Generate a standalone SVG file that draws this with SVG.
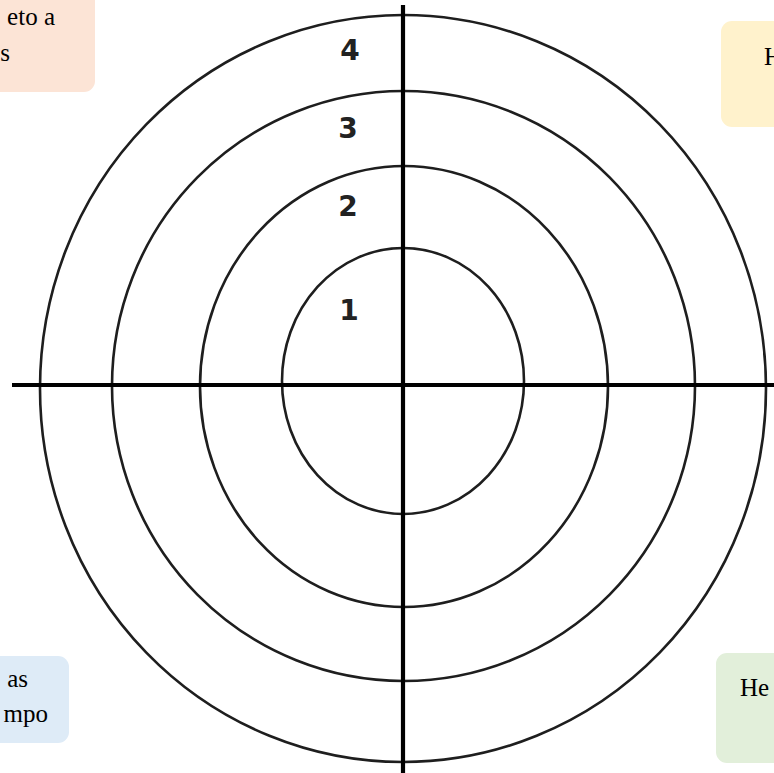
<svg xmlns="http://www.w3.org/2000/svg" width="774" height="773" viewBox="0 0 774 773">
<style>
.ring{fill:none;stroke:#1e1e1e;stroke-width:2.6}
.axis{stroke:#000;stroke-width:4.2}
.num{font-family:"DejaVu Sans",sans-serif;font-weight:bold;font-size:28px;fill:#222;text-anchor:middle}
.note{font-family:"Liberation Serif",serif;font-size:25px;fill:#000}
</style>
<rect width="774" height="773" fill="#fff"/>
<g id="note-tl"><rect x="-20" y="-20" width="115" height="112" rx="11" fill="#fce4d6"/>
<text class="note" x="55" y="25" text-anchor="end">eto a</text>
<text class="note" x="10" y="61" text-anchor="end">s</text></g>
<g id="note-tr"><rect x="721" y="21" width="80" height="106" rx="11" fill="#fff2cc"/>
<text class="note" x="764" y="65">H</text></g>
<g id="note-bl"><rect x="-20" y="656" width="89" height="87" rx="11" fill="#deebf7"/>
<text class="note" x="28" y="687" text-anchor="end">as</text>
<text class="note" x="48" y="722" text-anchor="end">mpo</text></g>
<g id="note-br"><rect x="716" y="653" width="80" height="110" rx="11" fill="#e2efda"/>
<text class="note" x="740" y="696">He</text></g>
<g id="rings">
<ellipse id="ring1" class="ring" cx="403" cy="381" rx="121" ry="133"/>
<ellipse id="ring2" class="ring" cx="404" cy="386.5" rx="204" ry="220.5"/>
<ellipse id="ring3" class="ring" cx="403.5" cy="386" rx="291.5" ry="295"/>
<ellipse id="ring4" class="ring" cx="403" cy="388.5" rx="363" ry="373.5"/>
</g>
<g id="connectors">
<line class="axis" x1="12" y1="385" x2="774" y2="385"/>
<line class="axis" x1="403" y1="5" x2="403" y2="773"/>
</g>
<g id="labels">
<text class="num" x="350" y="60">4</text>
<text class="num" x="348" y="138">3</text>
<text class="num" x="348" y="216">2</text>
<text class="num" x="349" y="320">1</text>
</g>
</svg>
